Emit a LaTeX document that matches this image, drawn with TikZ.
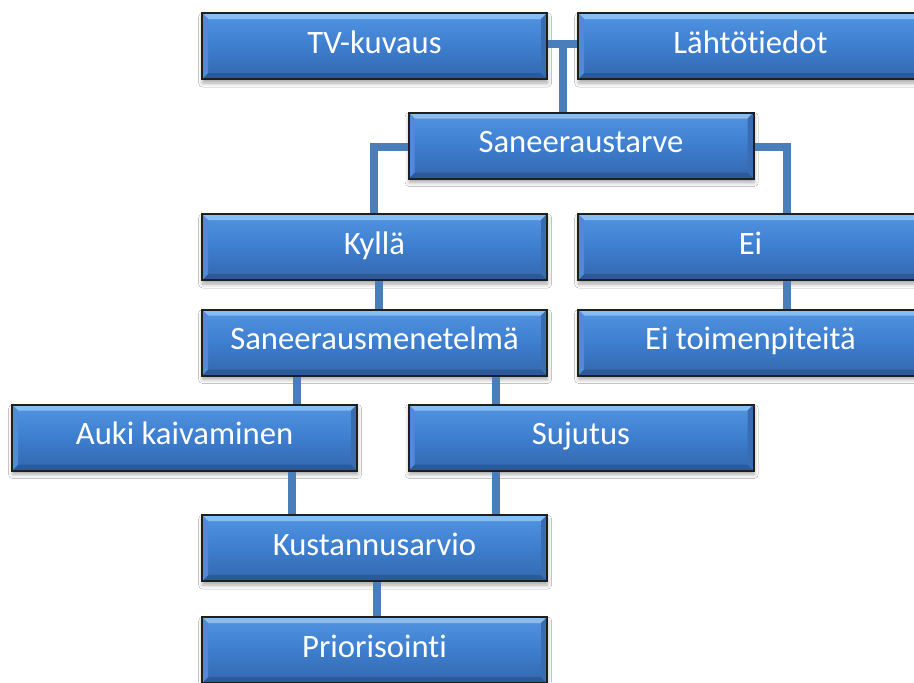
\documentclass[tikz,border=0pt]{standalone}
\usepackage{fontspec}
\setmainfont{Carlito}[Ligatures=NoCommon]
\usetikzlibrary{shadows.blur,calc}
\definecolor{bTop}{HTML}{5295E2}
\definecolor{bMid}{HTML}{3D7ECE}
\definecolor{bBot}{HTML}{3467AE}
\definecolor{bevT}{HTML}{86BDF2}
\definecolor{bevB}{HTML}{2C5A98}
\definecolor{bevL}{HTML}{4E8BD8}
\definecolor{bevR}{HTML}{3A6CB2}
\definecolor{conn}{HTML}{4A7EBB}
\tikzset{
  blk/.style={rectangle, minimum width=258.75pt, minimum height=49.5pt, inner sep=0pt,
    text height=16pt, text depth=5pt,
    draw=black!88, line width=1.5pt, top color=bTop, bottom color=bBot, middle color=bMid,
    text=white, font=\fontsize{24.5}{28}\selectfont,
    blur shadow={shadow xshift=0.5pt, shadow yshift=-3pt, shadow blur radius=3pt, shadow opacity=35},
    path picture={
      \fill[bevT] (path picture bounding box.north west) -- (path picture bounding box.north east)
        -- ([xshift=-4.5pt,yshift=-4.5pt]path picture bounding box.north east)
        -- ([xshift=4.5pt,yshift=-4.5pt]path picture bounding box.north west) -- cycle;
      \fill[bevB] (path picture bounding box.south west) -- (path picture bounding box.south east)
        -- ([xshift=-4.5pt,yshift=4.5pt]path picture bounding box.south east)
        -- ([xshift=4.5pt,yshift=4.5pt]path picture bounding box.south west) -- cycle;
      \fill[bevL] (path picture bounding box.north west) -- ([xshift=4.5pt,yshift=-4.5pt]path picture bounding box.north west)
        -- ([xshift=4.5pt,yshift=4.5pt]path picture bounding box.south west) -- (path picture bounding box.south west) -- cycle;
      \fill[bevR] (path picture bounding box.north east) -- ([xshift=-4.5pt,yshift=-4.5pt]path picture bounding box.north east)
        -- ([xshift=-4.5pt,yshift=4.5pt]path picture bounding box.south east) -- (path picture bounding box.south east) -- cycle;
    }},
  cn/.style={draw=conn, line width=6pt}
}
\begin{document}
\begin{tikzpicture}[x=0.75pt,y=-0.75pt]
\useasboundingbox[fill=white] (0,0) rectangle (914,682);
\node[blk] (tv) at (374.5,46) {TV-kuvaus};
\node[blk] (lt) at (750.5,46) {Lähtötiedot};
\node[blk] (st) at (581,145.5) {Saneeraustarve};
\node[blk] (ky) at (374.5,247) {Kyllä};
\node[blk] (ei) at (750.5,247) {Ei};
\node[blk] (sm) at (374.5,342.5) {Saneerausmenetelmä};
\node[blk] (et) at (750.5,342.5) {Ei toimenpiteitä};
\node[blk] (ak) at (184.5,437.5) {Auki kaivaminen};
\node[blk] (su) at (581,437.5) {Sujutus};
\node[blk] (ka) at (374.5,548) {Kustannusarvio};
\node[blk] (pr) at (374.5,650) {Priorisointi};

\coordinate (j) at ($([yshift=1.5pt]tv.east)!0.5!([yshift=1.5pt]lt.west)$);
\draw[cn] ([yshift=1.5pt]tv.east) -- ([yshift=1.5pt]lt.west);
\draw[cn] ([yshift=3pt]j) -- (j |- st.north);
\draw[cn] ([yshift=-1pt]st.west) -| ([xshift=-0.5pt]ky.north);
\draw[cn] ([yshift=-1pt]st.east) -| ([xshift=27pt]ei.north);
\draw[cn] ([xshift=3.5pt]ky.south) -- ([xshift=3.5pt]sm.north);
\draw[cn] ([xshift=27pt]ei.south) -- ([xshift=27pt]et.north);
\draw[cn] ([xshift=-58pt]sm.south) -- ([xshift=-58pt]sm.south |- ak.north);
\draw[cn] ([xshift=91pt]sm.south) -- ([xshift=91pt]sm.south |- su.north);
\draw[cn] ([xshift=-62pt]ka.north |- ak.south) -- ([xshift=-62pt]ka.north);
\draw[cn] ([xshift=91pt]ka.north |- su.south) -- ([xshift=91pt]ka.north);
\draw[cn] ([xshift=2pt]ka.south) -- ([xshift=2pt]pr.north);
\end{tikzpicture}
\end{document}
